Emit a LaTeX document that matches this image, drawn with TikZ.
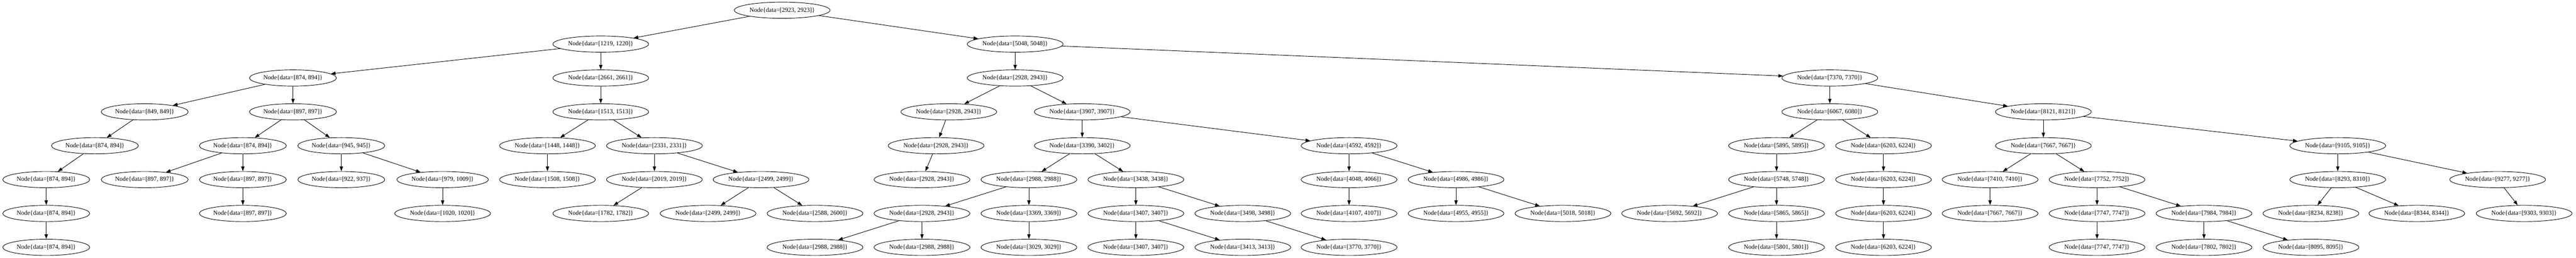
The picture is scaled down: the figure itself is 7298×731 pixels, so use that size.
\documentclass[tikz,border=0pt]{standalone}
\usepackage{fontspec}
\setmainfont{Liberation Serif}
\usetikzlibrary{shapes, arrows.meta}

\begin{document}
\begin{tikzpicture}[x=0.75pt, y=-0.75pt, line width=1pt,
	treenode/.style={shape=ellipse, draw=black, fill=white, inner xsep=2.5pt, minimum height=34.5pt, font=\fontsize{13.2}{15}\selectfont},
	treeedge/.style={-{Triangle[length=10pt, width=7pt]}}]
\useasboundingbox (0,0) rectangle (7298,731);
\foreach \n/\x/\l/\p/\q in {n0/2216/0/2923/2923,
	n1/1702/1/1219/1220, n2/2876/1/5048/5048,
	n3/830/2/874/894, n4/1702/2/2661/2661, n5/2876/2/2928/2943, n6/5184/2/7370/7370,
	n7/410/3/849/849, n8/830/3/897/897, n9/1702/3/1513/1513, n10/2688/3/2928/2943, n11/3066/3/3907/3907, n12/5184/3/6067/6080, n13/5789/3/8121/8121,
	n14/269/4/874/894, n15/688/4/874/894, n16/967/4/945/945, n17/1551/4/1448/1448, n18/1854/4/2331/2331, n19/2652/4/2928/2943, n20/3066/4/3390/3402, n21/3822/4/4592/4592, n22/5033/4/5895/5895, n23/5336/4/6203/6224, n24/5789/4/7667/7667, n25/6623/4/9105/9105,
	n26/131/5/874/894, n27/410/5/897/897, n28/688/5/897/897, n29/967/5/922/937, n30/1254/5/979/1009, n31/1551/5/1508/1508, n32/1854/5/2019/2019, n33/2156/5/2499/2499, n34/2612/5/2928/2943, n35/2915/5/2988/2988, n36/3218/5/3438/3438, n37/3822/5/4048/4066, n38/4125/5/4986/4986, n39/5033/5/5748/5748, n40/5336/5/6203/6224, n41/5638/5/7410/7410, n42/5941/5/7752/7752, n43/6623/5/8293/8310, n44/7076/5/9277/9277,
	n45/131/6/874/894, n46/688/6/897/897, n47/1254/6/1020/1020, n48/1702/6/1782/1782, n49/2006/6/2499/2499, n50/2309/6/2588/2600, n51/2612/6/2928/2943, n52/2915/6/3369/3369, n53/3218/6/3407/3407, n54/3521/6/3498/3498, n55/3822/6/4107/4107, n56/4125/6/4955/4955, n57/4428/6/5018/5018, n58/4730/6/5692/5692, n59/5033/6/5865/5865, n60/5336/6/6203/6224, n61/5638/6/7667/7667, n62/5941/6/7747/7747, n63/6244/6/7984/7984, n64/6547/6/8234/8238, n65/6847/6/8344/8344, n66/7151/6/9303/9303,
	n67/131/7/874/894, n68/2309/7/2988/2988, n69/2612/7/2988/2988, n70/2915/7/3029/3029, n71/3218/7/3407/3407, n72/3521/7/3413/3413, n73/3822/7/3770/3770, n74/5033/7/5801/5801, n75/5336/7/6203/6224, n76/5941/7/7747/7747, n77/6244/7/7802/7802, n78/6547/7/8095/8095}{
	\node[treenode] (\n) at (\x,{29+96*\l}) {Node\{data=[\p, \q]\}};
}
\foreach \a/\b in {n0/n1, n0/n2, n1/n3, n1/n4, n2/n5, n2/n6, n3/n7, n3/n8, n4/n9, n5/n10, n5/n11, n6/n12, n6/n13,
	n7/n14, n8/n15, n8/n16, n9/n17, n9/n18, n10/n19, n11/n20, n11/n21, n12/n22, n12/n23, n13/n24, n13/n25,
	n14/n26, n15/n27, n15/n28, n16/n29, n16/n30, n17/n31, n18/n32, n18/n33, n19/n34, n20/n35, n20/n36, n21/n37, n21/n38, n22/n39, n23/n40, n24/n41, n24/n42, n25/n43, n25/n44,
	n26/n45, n28/n46, n30/n47, n32/n48, n33/n49, n33/n50, n35/n51, n35/n52, n36/n53, n36/n54, n37/n55, n38/n56, n38/n57, n39/n58, n39/n59, n40/n60, n41/n61, n42/n62, n42/n63, n43/n64, n43/n65, n44/n66,
	n45/n67, n51/n68, n51/n69, n52/n70, n53/n71, n53/n72, n54/n73, n59/n74, n60/n75, n62/n76, n63/n77, n63/n78}{
	\draw[treeedge] (\a) -- (\b);
}
\end{tikzpicture}
\end{document}
